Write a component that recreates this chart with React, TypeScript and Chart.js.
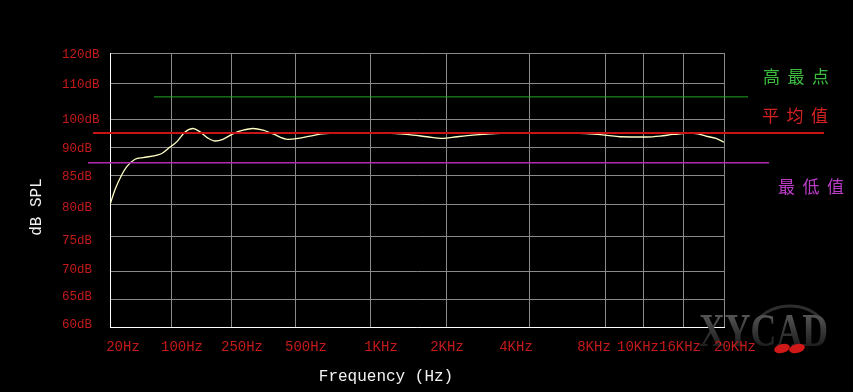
import React, { useEffect, useRef } from 'react';
import { Chart, LinearScale, registerables } from 'chart.js';

// ---- data ----
const xTickValues = [20, 100, 250, 500, 1000, 2000, 4000, 8000, 10000, 16000, 20000];
const xTickLabels = ['20Hz', '100Hz', '250Hz', '500Hz', '1KHz', '2KHz', '4KHz', '8KHz', '10KHz', '16KHz', '20KHz'];
const yTickValues = [60, 65, 70, 75, 80, 85, 90, 100, 110, 120];
const yTickLabels = ['60dB', '65dB', '70dB', '75dB', '80dB', '85dB', '90dB', '100dB', '110dB', '120dB'];

const freqHz = [20, 22.8, 27.2, 31, 38.7, 47.7, 71, 81, 97.5, 109, 124, 140, 156, 176, 196, 221, 255, 285, 317, 354, 394, 463, 514, 574, 640, 760, 1000, 1150, 1315, 1480, 1680, 1945, 2192, 2506, 2888, 3300, 4000, 5000, 6000, 6975, 8095, 8735, 10480, 12210, 14230, 15810, 16500, 17360, 18130, 19150, 20000];
const splDb = [80, 82.5, 85, 86.5, 87.9, 88.2, 88.7, 89.1, 90.25, 92.1, 95.6, 96.8, 95.6, 93.4, 92.4, 93.0, 94.9, 96.2, 96.8, 96.2, 94.9, 93.0, 93.3, 94.1, 94.9, 95.2, 95.2, 95.2, 94.9, 94.5, 93.9, 93.3, 93.9, 94.5, 94.9, 95.2, 95.2, 95.2, 95.2, 94.9, 94.4, 93.9, 93.8, 94.1, 94.7, 95.0, 95.2, 94.9, 94.1, 93.3, 92.0];

const refLabels = ['高最点', '平均值', '最低值'];
const refValues = [106.35, 95.18, 87.25];

// ---- layout / style ----
const xGridFrac = [0, 61, 121, 185, 260, 336, 419, 495, 533, 573, 614].map(v => v / 614);
const yGridFrac = [0, 28, 55.6, 90.6, 122.6, 152.3, 179.6, 208, 243.6, 274.6].map(v => v / 274.6);
const xLabelOffsets = [13, 11, 11, 11, 11, 1, -13, -11, -5, -3, 11];
const yLabelOffsets = [-2, -2, -2, 4, 3, 2, 1, 0, 1, 2];
const refColors = ['#22a822', '#c81414', '#b02ab0'];
const refTextColors = ['#3cbc3c', '#d42222', '#bc3cc8'];
const refSpans = [[154, 748], [93, 824], [88, 769]];
const refTextPos = [[763, 77], [762, 116], [778, 187]];
const refWidths = [1, 2, 1.5];

const scaleMaps: any = {
  x: { breaks: xTickValues, fracs: xGridFrac, log: true },
  y: { breaks: yTickValues, fracs: yGridFrac, log: false },
};

function tr(v: number, log: boolean) { return log ? Math.log(v) : v; }

class PiecewiseScale extends LinearScale {
  static id = 'piecewise';
  static defaults = (LinearScale as any).defaults;
  getPixelForValue(value: any) {
    if (value === null || value === undefined || isNaN(value)) return NaN;
    const m = scaleMaps[(this as any).id];
    const b = m.breaks, f = m.fracs;
    let i = 0;
    while (i < b.length - 2 && value > b[i + 1]) i++;
    const t = (tr(value, m.log) - tr(b[i], m.log)) / (tr(b[i + 1], m.log) - tr(b[i], m.log));
    const frac = f[i] + t * (f[i + 1] - f[i]);
    return (this as any).getPixelForDecimal(frac);
  }
  getValueForPixel(pixel: number) {
    const m = scaleMaps[(this as any).id];
    const b = m.breaks, f = m.fracs;
    const d = (this as any).getDecimalForPixel(pixel);
    let i = 0;
    while (i < f.length - 2 && d > f[i + 1]) i++;
    const t = (d - f[i]) / (f[i + 1] - f[i]);
    const v = tr(b[i], m.log) + t * (tr(b[i + 1], m.log) - tr(b[i], m.log));
    return m.log ? Math.exp(v) : v;
  }
}

Chart.register(...registerables, PiecewiseScale as any);

const MONO = '"Liberation Mono", "DejaVu Sans Mono", monospace';
const CJK = '"Noto Sans CJK SC", "Noto Sans", sans-serif';

const overlay = {
  id: 'overlay',
  afterDraw(chart: any) {
    const ctx = chart.ctx as CanvasRenderingContext2D;
    const xs = chart.scales.x, ys = chart.scales.y;
    ctx.save();

    // reference lines
    refValues.forEach((v, i) => {
      const y = ys.getPixelForValue(v);
      ctx.strokeStyle = refColors[i];
      ctx.lineWidth = refWidths[i];
      ctx.beginPath();
      ctx.moveTo(refSpans[i][0], y);
      ctx.lineTo(refSpans[i][1], y);
      ctx.stroke();
    });

    // reference legend text
    ctx.font = '17px ' + CJK;
    ctx.textAlign = 'left';
    ctx.textBaseline = 'middle';
    refLabels.forEach((lab, i) => {
      ctx.fillStyle = refTextColors[i];
      Array.from(lab).forEach((ch, k) => {
        ctx.fillText(ch, refTextPos[i][0] + k * 24.5, refTextPos[i][1]);
      });
    });

    // watermark
    ctx.save();
    ctx.strokeStyle = '#2e2e2e';
    ctx.lineWidth = 3;
    ctx.beginPath();
    ctx.ellipse(790, 331, 35, 25, 0, Math.PI * 1.08, Math.PI * 1.95);
    ctx.stroke();
    ctx.translate(699, 346);
    ctx.scale(0.76, 1);
    const g = ctx.createLinearGradient(0, -34, 0, 0);
    g.addColorStop(0, '#5a5a5a');
    g.addColorStop(0.5, '#3a3a3a');
    g.addColorStop(1, '#1e1e1e');
    ctx.fillStyle = g;
    ctx.font = 'bold 47px "Liberation Serif", serif';
    ctx.textBaseline = 'alphabetic';
    ctx.fillText('XYCAD', 0, 0);
    ctx.restore();
    ctx.fillStyle = '#d01818';
    [[782, 348.5], [797, 348.5]].forEach(([cx, cy]) => {
      ctx.beginPath();
      ctx.ellipse(cx, cy, 8, 4.5, -0.25, 0, Math.PI * 2);
      ctx.fill();
    });

    // x tick labels
    ctx.font = '14px ' + MONO;
    ctx.fillStyle = '#c41a1a';
    ctx.textAlign = 'center';
    ctx.textBaseline = 'middle';
    xTickValues.forEach((v, i) => {
      ctx.fillText(xTickLabels[i], xs.getPixelForValue(v) + xLabelOffsets[i], 347);
    });

    // y tick labels
    ctx.font = '12.5px ' + MONO;
    ctx.textAlign = 'left';
    yTickValues.forEach((v, i) => {
      ctx.fillText(yTickLabels[i], 62, ys.getPixelForValue(v) + yLabelOffsets[i]);
    });

    // axis titles
    ctx.fillStyle = '#f2f2f2';
    ctx.font = '16px ' + MONO;
    ctx.textAlign = 'center';
    ctx.fillText('Frequency (Hz)', 386, 377);
    ctx.translate(37, 207);
    ctx.rotate(-Math.PI / 2);
    ctx.fillText('dB SPL', 0, 0);
    ctx.restore();
  },
};

export default function App() {
  const ref = useRef<HTMLCanvasElement>(null);
  useEffect(() => {
    if (!ref.current) return;
    const chart = new Chart(ref.current, {
      type: 'line',
      data: {
        datasets: [{
          data: freqHz.map((f, i) => ({ x: f, y: splDb[i] })),
          borderColor: '#ffffc4',
          borderWidth: 1.3,
          pointRadius: 0,
          cubicInterpolationMode: 'monotone',
          fill: false,
        }],
      },
      options: {
        responsive: false,
        animation: false,
        events: [],
        layout: { padding: { left: 110, right: 129, top: 53, bottom: 65 } },
        plugins: { legend: { display: false }, tooltip: { enabled: false }, title: { display: false } },
        scales: {
          x: {
            type: 'piecewise' as any,
            min: 20, max: 20000,
            afterBuildTicks: (s: any) => { s.ticks = xTickValues.map(v => ({ value: v })); },
            ticks: { display: false },
            grid: { color: '#8a8a8a', lineWidth: 1, drawTicks: false },
            border: { display: true, color: '#ffffff', width: 1 },
          },
          y: {
            type: 'piecewise' as any,
            min: 60, max: 120,
            afterBuildTicks: (s: any) => { s.ticks = yTickValues.map(v => ({ value: v })); },
            ticks: { display: false },
            grid: { color: '#8a8a8a', lineWidth: 1, drawTicks: false },
            border: { display: true, color: '#ffffff', width: 1 },
          },
        } as any,
      },
      plugins: [overlay],
    } as any);
    return () => chart.destroy();
  }, []);
  return (
    <div style={{ position: 'fixed', left: 0, top: 0, width: 853, height: 392, background: '#000' }}>
      <canvas ref={ref} width={853} height={392} style={{ display: 'block' }} />
    </div>
  );
}
